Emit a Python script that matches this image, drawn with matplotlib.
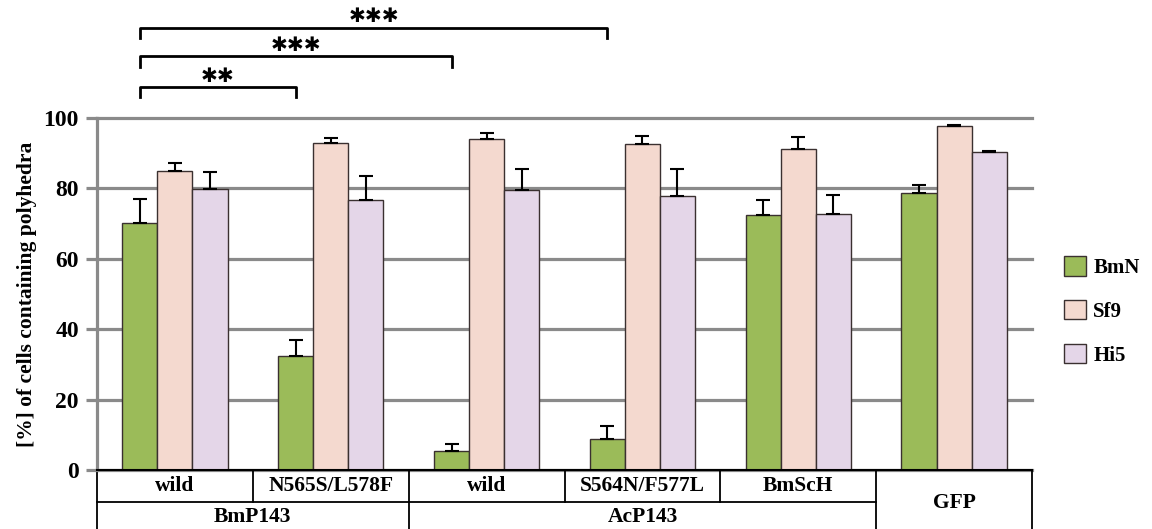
import matplotlib.pyplot as plt
import numpy as np
from matplotlib.patches import Patch

plt.rcParams['font.family'] = ['Liberation Serif', 'DejaVu Serif']
plt.rcParams['font.weight'] = 'bold'

# data (percent of cells containing polyhedra)
constructs = ["wild", "N565S/L578F", "wild", "S564N/F577L", "BmScH", "GFP"]
parents = ["BmP143", "AcP143"]
lines = ["BmN", "Sf9", "Hi5"]
bmn = [70.3, 32.3, 5.5, 8.7, 72.4, 78.7]
bmn_err = [6.6, 4.6, 1.9, 3.9, 4.3, 2.3]
sf9 = [85.0, 92.8, 93.9, 92.5, 91.2, 97.8]
sf9_err = [2.2, 1.4, 1.8, 2.5, 3.5, 0.3]
hi5 = [79.7, 76.8, 79.5, 77.7, 72.7, 90.2]
hi5_err = [5.1, 6.7, 6.0, 7.8, 5.5, 0.3]
# significance of BmN vs BmP143 wild: (target group, stars)
sig = [(1, 2), (2, 3), (3, 3)]

colors = ["#9bbb59", "#f4d9cf", "#e4d6e8"]
grid_c = "#8a8a8a"

fig = plt.figure(figsize=(11.52, 5.29), dpi=100)
ax = fig.add_axes([97 / 1152, 59 / 529, 935 / 1152, 352 / 529])

x = np.arange(len(constructs)) + 0.5
w = 0.225
for k, (vals, errs) in enumerate([(bmn, bmn_err), (sf9, sf9_err), (hi5, hi5_err)]):
    xs = x + (k - 1) * w
    ax.bar(xs, vals, width=w, color=colors[k], edgecolor="#3a3030", linewidth=1.0, zorder=3)
    ax.errorbar(xs, vals, yerr=[np.zeros(len(vals)), errs], fmt="none", ecolor="black",
                elinewidth=1.5, capsize=4.7, capthick=1.5, zorder=4)

ax.set_xlim(0, len(constructs))
ax.set_ylim(0, 100)
ax.set_yticks([0, 20, 40, 60, 80, 100])
ax.set_xticks([])
ax.yaxis.grid(True, color=grid_c, linewidth=2.3, zorder=0)
ax.set_axisbelow(True)
for gl in ax.get_ygridlines():
    gl.set_clip_on(False)
ax.tick_params(axis="y", length=8, width=2.3, color=grid_c, labelsize=17, pad=5)
for lab in ax.get_yticklabels():
    lab.set_fontweight("bold")
for s in ["top", "right"]:
    ax.spines[s].set_visible(False)
ax.spines["left"].set_color(grid_c)
ax.spines["left"].set_linewidth(2.3)
ax.spines["bottom"].set_color("black")
ax.spines["bottom"].set_linewidth(1.5)
ax.spines["bottom"].set_zorder(5)
ax.set_ylabel("[%] of cells containing polyhedra", fontsize=15.5, fontweight="bold", labelpad=5)

# category table under the axis
tr = ax.get_xaxis_transform()
r1, r2 = -0.091, -0.2
kw = dict(color="black", linewidth=1.3, transform=tr, clip_on=False)
for b in range(len(constructs) + 1):
    bottom = r2 if b in (0, 2, 5, 6) else r1
    ax.plot([b, b], [0, bottom], **kw)
ax.plot([0, 5], [r1, r1], **kw)
fs = 15.5
for i, name in enumerate(constructs[:5]):
    ax.text(x[i], r1 / 2, name, transform=tr, ha="center", va="center", fontsize=fs, fontweight="bold")
ax.text(x[5], -0.093, constructs[5], transform=tr, ha="center", va="center", fontsize=fs, fontweight="bold")
ax.text(1.0, -0.133, parents[0], transform=tr, ha="center", va="center", fontsize=fs, fontweight="bold")
ax.text(3.5, -0.133, parents[1], transform=tr, ha="center", va="center", fontsize=fs, fontweight="bold")

# significance brackets
x0 = x[0] - w
levels = [106.0, 114.6, 122.8]
for (g, n), y in zip(sig, levels):
    x1 = x[g] - w
    ax.plot([x0, x0, x1, x1], [y, y + 2.9, y + 2.9, y], color="black", linewidth=2.0, clip_on=False)
    ax.text((x0 + x1) / 2, y + 3.2, "\u2731" * n, ha="center", va="bottom", fontsize=14.5,
            family="DejaVu Sans", clip_on=False)

handles = [Patch(facecolor=c, edgecolor="#3a3030", linewidth=1.0) for c in colors]
fig.legend(handles, lines, loc="center left", bbox_to_anchor=(1064 / 1152, 1 - 311 / 529),
           frameon=False, labelspacing=1.05, handlelength=1.05, handleheight=1.05,
           handletextpad=0.35, borderpad=0, borderaxespad=0,
           prop={"weight": "bold", "size": 15})

fig.savefig("out.png", dpi=100)
